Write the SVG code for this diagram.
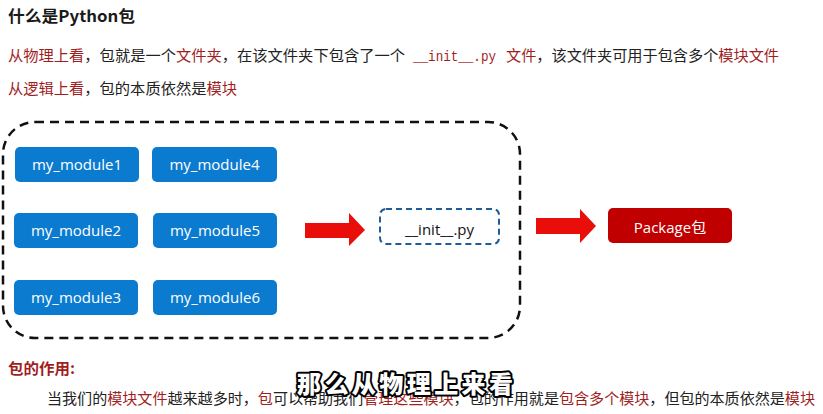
<svg xmlns="http://www.w3.org/2000/svg" width="823" height="414" viewBox="0 0 823 414">
<style>
  .cjk { font-family: "Noto Sans CJK SC", "Noto Sans", sans-serif; font-size: 15px; fill: #222; }
  .red { fill: #a01e1e; }
  .mono { font-family: "Liberation Mono", "Noto Sans CJK SC", monospace; font-size: 14px; fill: #a01e1e; }
  .mod rect { fill: #0b7bd0; }
  .mod text { font-family: "Open Sans", "Liberation Sans", sans-serif; font-size: 15px; fill: #ffffff; text-anchor: middle; }
  .arrow { fill: #ea0e0a; }
</style>
<rect width="823" height="414" fill="#ffffff"/>

<text x="8" y="22" font-family="'Noto Sans CJK SC', sans-serif" font-size="16" font-weight="bold" fill="#1a1a1a" textLength="127" lengthAdjust="spacingAndGlyphs">什么是Python包</text>

<text class="cjk" x="8" y="61" textLength="397" lengthAdjust="spacingAndGlyphs"><tspan class="red">从物理上看</tspan>，包就是一个<tspan class="red">文件夹</tspan>，在该文件夹下包含了一个</text>
<text class="mono" x="413" y="61" textLength="83" lengthAdjust="spacingAndGlyphs">__init__.py</text>
<text class="cjk" x="506" y="61" textLength="273" lengthAdjust="spacingAndGlyphs"><tspan class="red">文件</tspan>，该文件夹可用于包含多个<tspan class="red">模块文件</tspan></text>

<text class="cjk" x="8" y="94" textLength="229" lengthAdjust="spacingAndGlyphs"><tspan class="red">从逻辑上看</tspan>，包的本质依然是<tspan class="red">模块</tspan></text>

<g id="package-container">
  <rect x="3" y="122" width="517" height="216" rx="32" ry="32" fill="none" stroke="#111" stroke-width="2.5" stroke-dasharray="9 6"/>
</g>

<g id="my_module1" class="mod"><rect x="15" y="147" width="124" height="35" rx="5"/><text x="77" y="170">my_module1</text></g>
<g id="my_module4" class="mod"><rect x="152" y="147" width="125" height="35" rx="5"/><text x="214.5" y="170">my_module4</text></g>
<g id="my_module2" class="mod"><rect x="14" y="213" width="124" height="35" rx="5"/><text x="76" y="236">my_module2</text></g>
<g id="my_module5" class="mod"><rect x="153" y="213" width="124" height="35" rx="5"/><text x="215" y="236">my_module5</text></g>
<g id="my_module3" class="mod"><rect x="14" y="280" width="124" height="35" rx="5"/><text x="76" y="303">my_module3</text></g>
<g id="my_module6" class="mod"><rect x="153" y="280" width="124" height="35" rx="5"/><text x="215" y="303">my_module6</text></g>

<g id="init-file">
  <rect x="380" y="209" width="119" height="35" rx="6" fill="#ffffff" stroke="#1f5c99" stroke-width="2" stroke-dasharray="6 4"/>
  <text x="439.5" y="235" font-family="'Open Sans', 'Liberation Sans', sans-serif" font-size="15" fill="#111" text-anchor="middle">__init__.py</text>
</g>

<g id="package">
  <rect x="608" y="208" width="124" height="35" rx="5" fill="#c00000"/>
  <text x="670" y="233" font-family="'Open Sans', 'Noto Sans CJK SC', sans-serif" font-size="15" fill="#ffffff" text-anchor="middle">Package包</text>
</g>

<g id="connectors">
  <polygon class="arrow" points="305,223 349,223 349,213 365,230 349,246 349,238 305,238"/>
  <polygon class="arrow" points="536,218 580,218 580,209 596,226 580,243 580,234 536,234"/>
</g>

<text class="cjk red" x="8" y="374" font-weight="bold" textLength="67" lengthAdjust="spacingAndGlyphs">包的作用:</text>

<text class="cjk" x="47" y="404" textLength="768" lengthAdjust="spacingAndGlyphs">当我们的<tspan class="red">模块文件</tspan>越来越多时，<tspan class="red">包</tspan>可以帮助我们<tspan class="red">管理这些模块</tspan>，包的作用就是<tspan class="red">包含多个模块</tspan>，但包的本质依然是<tspan class="red">模块</tspan></text>

<text x="297" y="393" font-family="'Noto Sans CJK SC', sans-serif" font-size="24" font-weight="900" fill="#ffffff" stroke="#000" stroke-width="4" stroke-linejoin="round" paint-order="stroke" textLength="216" lengthAdjust="spacing">那么从物理上来看</text>
</svg>
